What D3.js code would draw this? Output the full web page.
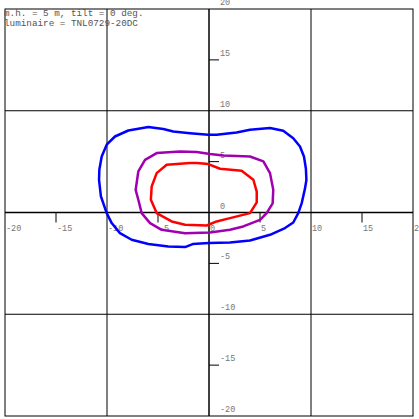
<!DOCTYPE html>
<meta charset="utf-8">
<head>
  <title>Isolux</title>
  <style>
    body { margin: 0; background: #fff; }
    text { font-family: "Liberation Mono", "DejaVu Sans Mono", monospace; }
    .tick-label { font-size: 8.5px; fill: #777; }
    .title { font-size: 9.3px; fill: #555; }
  </style>
  <script src="https://d3js.org/d3.v7.min.js"></script>
</head>
<body>
<svg id="chart" width="419" height="419"></svg>
<script>
// header text
var titleLines = ["m.h. = 5 m, tilt = 0 deg.", "luminaire = TNL0729-20DC"];

// axis values
var gridValues = [-10, 0, 10];
var minorTicks = [-15, -5, 5, 15];
var xLabels = [-20, -15, -10, -5, 0, 5, 10, 15, 20];
var yLabels = [20, 15, 10, 5, 0, -5, -10, -15, -20];

// contour points [x, y] in metres
var blueContour = [
  [-5.95, 8.4], [-7.91, 8.06], [-9.22, 7.47], [-10.03, 6.66], [-10.52, 5.5], [-10.75, 4.2],
  [-10.78, 3.2], [-10.6, 1.6], [-10.03, -0.06], [-9.54, -1.04], [-8.73, -2.03], [-7.58, -2.68],
  [-5.95, -3.1], [-3.99, -3.34], [-2.35, -3.4], [-1.6, -3.1], [0, -3.0], [2.06, -2.95],
  [4.02, -2.75], [5.98, -2.19], [7.45, -1.53], [8.26, -0.98], [8.75, -0.06], [9.09, 0.92],
  [9.4, 2.3], [9.55, 3.2], [9.5, 4.3], [9.31, 5.5], [8.92, 6.49], [8.26, 7.3], [7.28, 8.03],
  [5.98, 8.3], [4.02, 8.13], [2.7, 7.87], [0.75, 7.64], [-0.07, 7.64], [-1.86, 7.8],
  [-3.5, 7.96], [-4.48, 8.2]
];
var purpleContour = [
  [-2.84, 6.0], [-5.13, 5.84], [-6.27, 5.18], [-6.93, 4.03], [-7.19, 2.23], [-6.93, 1.25],
  [-6.6, -0.06], [-5.78, -1.04], [-4.64, -1.7], [-2.35, -2.03], [0.1, -1.97], [2.06, -1.7],
  [3.36, -1.37], [5.0, -0.72], [5.65, -0.06], [6.24, 0.9], [6.3, 2.23], [5.98, 3.87],
  [5.33, 5.02], [4.02, 5.5], [1.4, 5.6], [0.1, 5.74], [-1.2, 5.94]
];
var redContour = [
  [-1.86, 4.86], [-4.15, 4.69], [-5.13, 3.87], [-5.62, 2.56], [-5.7, 1.25], [-5.13, -0.06],
  [-3.66, -0.88], [-2.35, -1.21], [-0.23, -1.28], [0.75, -0.88], [2.06, -0.55], [4.02, -0.06],
  [4.68, 1.0], [4.68, 2.06], [4.35, 3.22], [3.2, 4.1], [1.08, 4.3], [-0.07, 4.76], [-1.2, 4.86]
];
var contourColors = ["#0000ff", "#a000b0", "#ff0000"];

var svg = d3.select("#chart");
var x = d3.scaleLinear().domain([-20, 20]).range([5, 413]);
var y = d3.scaleLinear().domain([-20, 20]).range([416, 9]);

// grid lines
var grid = svg.append("g");
gridValues.forEach(function(v) {
  grid.append("line")
    .attr("x1", x(v)).attr("x2", x(v)).attr("y1", y(20)).attr("y2", y(-20))
    .attr("stroke", "#000").attr("stroke-width", v === 0 ? 1.5 : 1);
  grid.append("line")
    .attr("y1", y(v)).attr("y2", y(v)).attr("x1", x(-20)).attr("x2", x(20))
    .attr("stroke", "#000").attr("stroke-width", v === 0 ? 1.5 : 1);
});
svg.append("rect")
  .attr("x", x(-20)).attr("y", y(20))
  .attr("width", x(20) - x(-20)).attr("height", y(-20) - y(20))
  .attr("fill", "none").attr("stroke", "#000").attr("stroke-width", 1);

// small ticks on the axes
minorTicks.forEach(function(v) {
  grid.append("line")
    .attr("x1", x(v)).attr("x2", x(v)).attr("y1", y(0)).attr("y2", y(0) + 10)
    .attr("stroke", "#000").attr("stroke-width", 1);
  grid.append("line")
    .attr("x1", x(0)).attr("x2", x(0) + 10).attr("y1", y(v)).attr("y2", y(v))
    .attr("stroke", "#000").attr("stroke-width", 1);
});

// tick labels
svg.selectAll(".xl").data(xLabels).enter().append("text")
  .attr("class", "tick-label")
  .attr("x", function(d) { return x(d) + 1; })
  .attr("y", y(0) + 18)
  .text(function(d) { return d; });
svg.selectAll(".yl").data(yLabels).enter().append("text")
  .attr("class", "tick-label")
  .attr("x", x(0) + 11)
  .attr("y", function(d) { return y(d) - 4; })
  .text(function(d) { return d; });

// contours
var line = d3.line()
  .x(function(d) { return x(d[0]); })
  .y(function(d) { return y(d[1]); })
  .curve(d3.curveLinearClosed);
svg.selectAll(".contour").data([blueContour, purpleContour, redContour]).enter()
  .append("path")
  .attr("d", line)
  .attr("fill", "none")
  .attr("stroke", function(d, i) { return contourColors[i]; })
  .attr("stroke-width", 2.5)
  .attr("stroke-linejoin", "round");

// header
svg.selectAll(".title").data(titleLines).enter().append("text")
  .attr("class", "title")
  .attr("x", 4)
  .attr("y", function(d, i) { return 16 + i * 10; })
  .text(function(d) { return d; });
</script>
</body>
</html>
